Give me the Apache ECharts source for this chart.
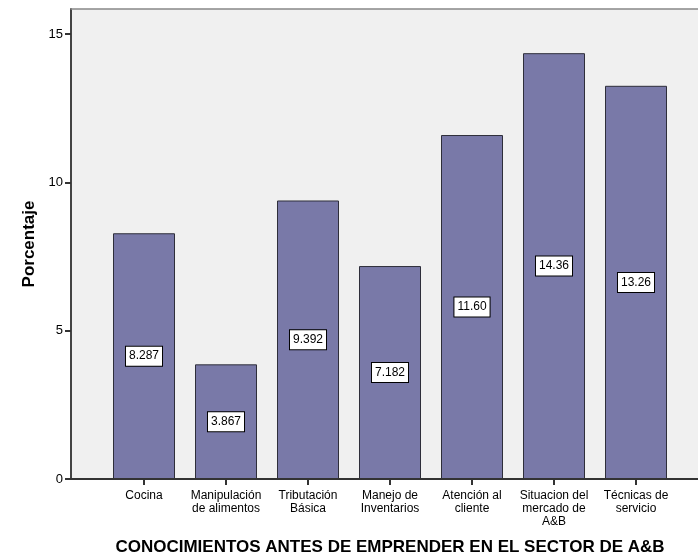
<!DOCTYPE html>
<html>
<head>
<meta charset="utf-8">
<script src="https://cdn.jsdelivr.net/npm/echarts@6/dist/echarts.min.js"></script>
<style>
  html, body { margin: 0; padding: 0; background: #ffffff; }
  #chart { width: 698px; height: 557px; }
</style>
</head>
<body>
<div id="chart"></div>
<script>
// Conocimientos antes de emprender en el sector de A&B (porcentaje)
const categories = [
  'Cocina',
  'Manipulación\nde alimentos',
  'Tributación\nBásica',
  'Manejo de\nInventarios',
  'Atención al\ncliente',
  'Situacion del\nmercado de\nA&B',
  'Técnicas de\nservicio'
];
const porcentajes = [8.287, 3.867, 9.392, 7.182, 11.60, 14.36, 13.26];
const yTicks = [0, 5, 10, 15];

const yMax = 15.85;
const font = 'Arial, "Liberation Sans", sans-serif';

const chart = echarts.init(document.getElementById('chart'), null, { renderer: 'canvas' });

chart.setOption({
  backgroundColor: '#ffffff',
  animation: false,
  grid: [
    // plot area background, open on the right side
    { left: 71, right: 0, top: 9, bottom: 78, show: true, outerBoundsMode: 'none',
      backgroundColor: '#F0F0F0', borderWidth: 0 },
    // band area holding the bars
    { left: 103, right: 21, top: 9, bottom: 78, outerBoundsMode: 'none' }
  ],
  xAxis: [
    // top frame line of the plot area
    { gridIndex: 0, type: 'value', min: 0, max: 1, position: 'top',
      axisLine: { show: true, onZero: false, lineStyle: { color: '#888888', width: 1.5 } },
      axisTick: { show: false },
      axisLabel: { show: false }, splitLine: { show: false } },
    { gridIndex: 1, type: 'category', data: categories,
      name: 'CONOCIMIENTOS ANTES DE EMPRENDER EN EL SECTOR DE A&B',
      nameLocation: 'middle', nameGap: 60,
      nameTextStyle: { fontFamily: font, fontSize: 17, fontWeight: 'bold', color: '#000' },
      axisLine: { show: false },
      axisTick: { show: true, length: 6, alignWithLabel: true,
        lineStyle: { color: '#333', width: 2 } },
      axisLabel: { fontFamily: font, fontSize: 12, color: '#000', margin: 10,
        lineHeight: 13, interval: 0 } }
  ],
  yAxis: [
    { gridIndex: 0, type: 'value', min: 0, max: yMax, interval: 5,
      name: 'Porcentaje', nameLocation: 'middle', nameGap: 31,
      nameTextStyle: { fontFamily: font, fontSize: 17, fontWeight: 'bold', color: '#000' },
      axisLine: { show: true, onZero: false, lineStyle: { color: '#444', width: 2 } },
      axisTick: { show: true, inside: false, length: 6, lineStyle: { color: '#333', width: 2 } },
      axisLabel: { fontFamily: font, fontSize: 13, color: '#000', margin: 8,
        showMaxLabel: false,
        formatter: v => (yTicks.indexOf(v) >= 0 ? String(v) : '') },
      splitLine: { show: false } },
    { gridIndex: 1, type: 'value', min: 0, max: yMax, show: false }
  ],
  series: [
    {
      // zero baseline spanning the whole plot width
      type: 'line', xAxisIndex: 0, yAxisIndex: 0,
      data: [[0, 0], [1, 0]], symbol: 'none', silent: true,
      lineStyle: { color: '#333', width: 2 }
    },
    {
      type: 'bar', xAxisIndex: 1, yAxisIndex: 1,
      data: porcentajes, barWidth: 62,
      itemStyle: { color: '#7979A8', borderColor: '#2e2e3a', borderWidth: 1 },
      label: {
        show: true, position: 'inside',
        formatter: p => Number(p.value).toPrecision(4),
        fontFamily: font, fontSize: 12, color: '#000',
        backgroundColor: '#ffffff', borderColor: '#000', borderWidth: 1,
        padding: [4, 3, 3, 3]
      }
    }
  ]
});
</script>
</body>
</html>
